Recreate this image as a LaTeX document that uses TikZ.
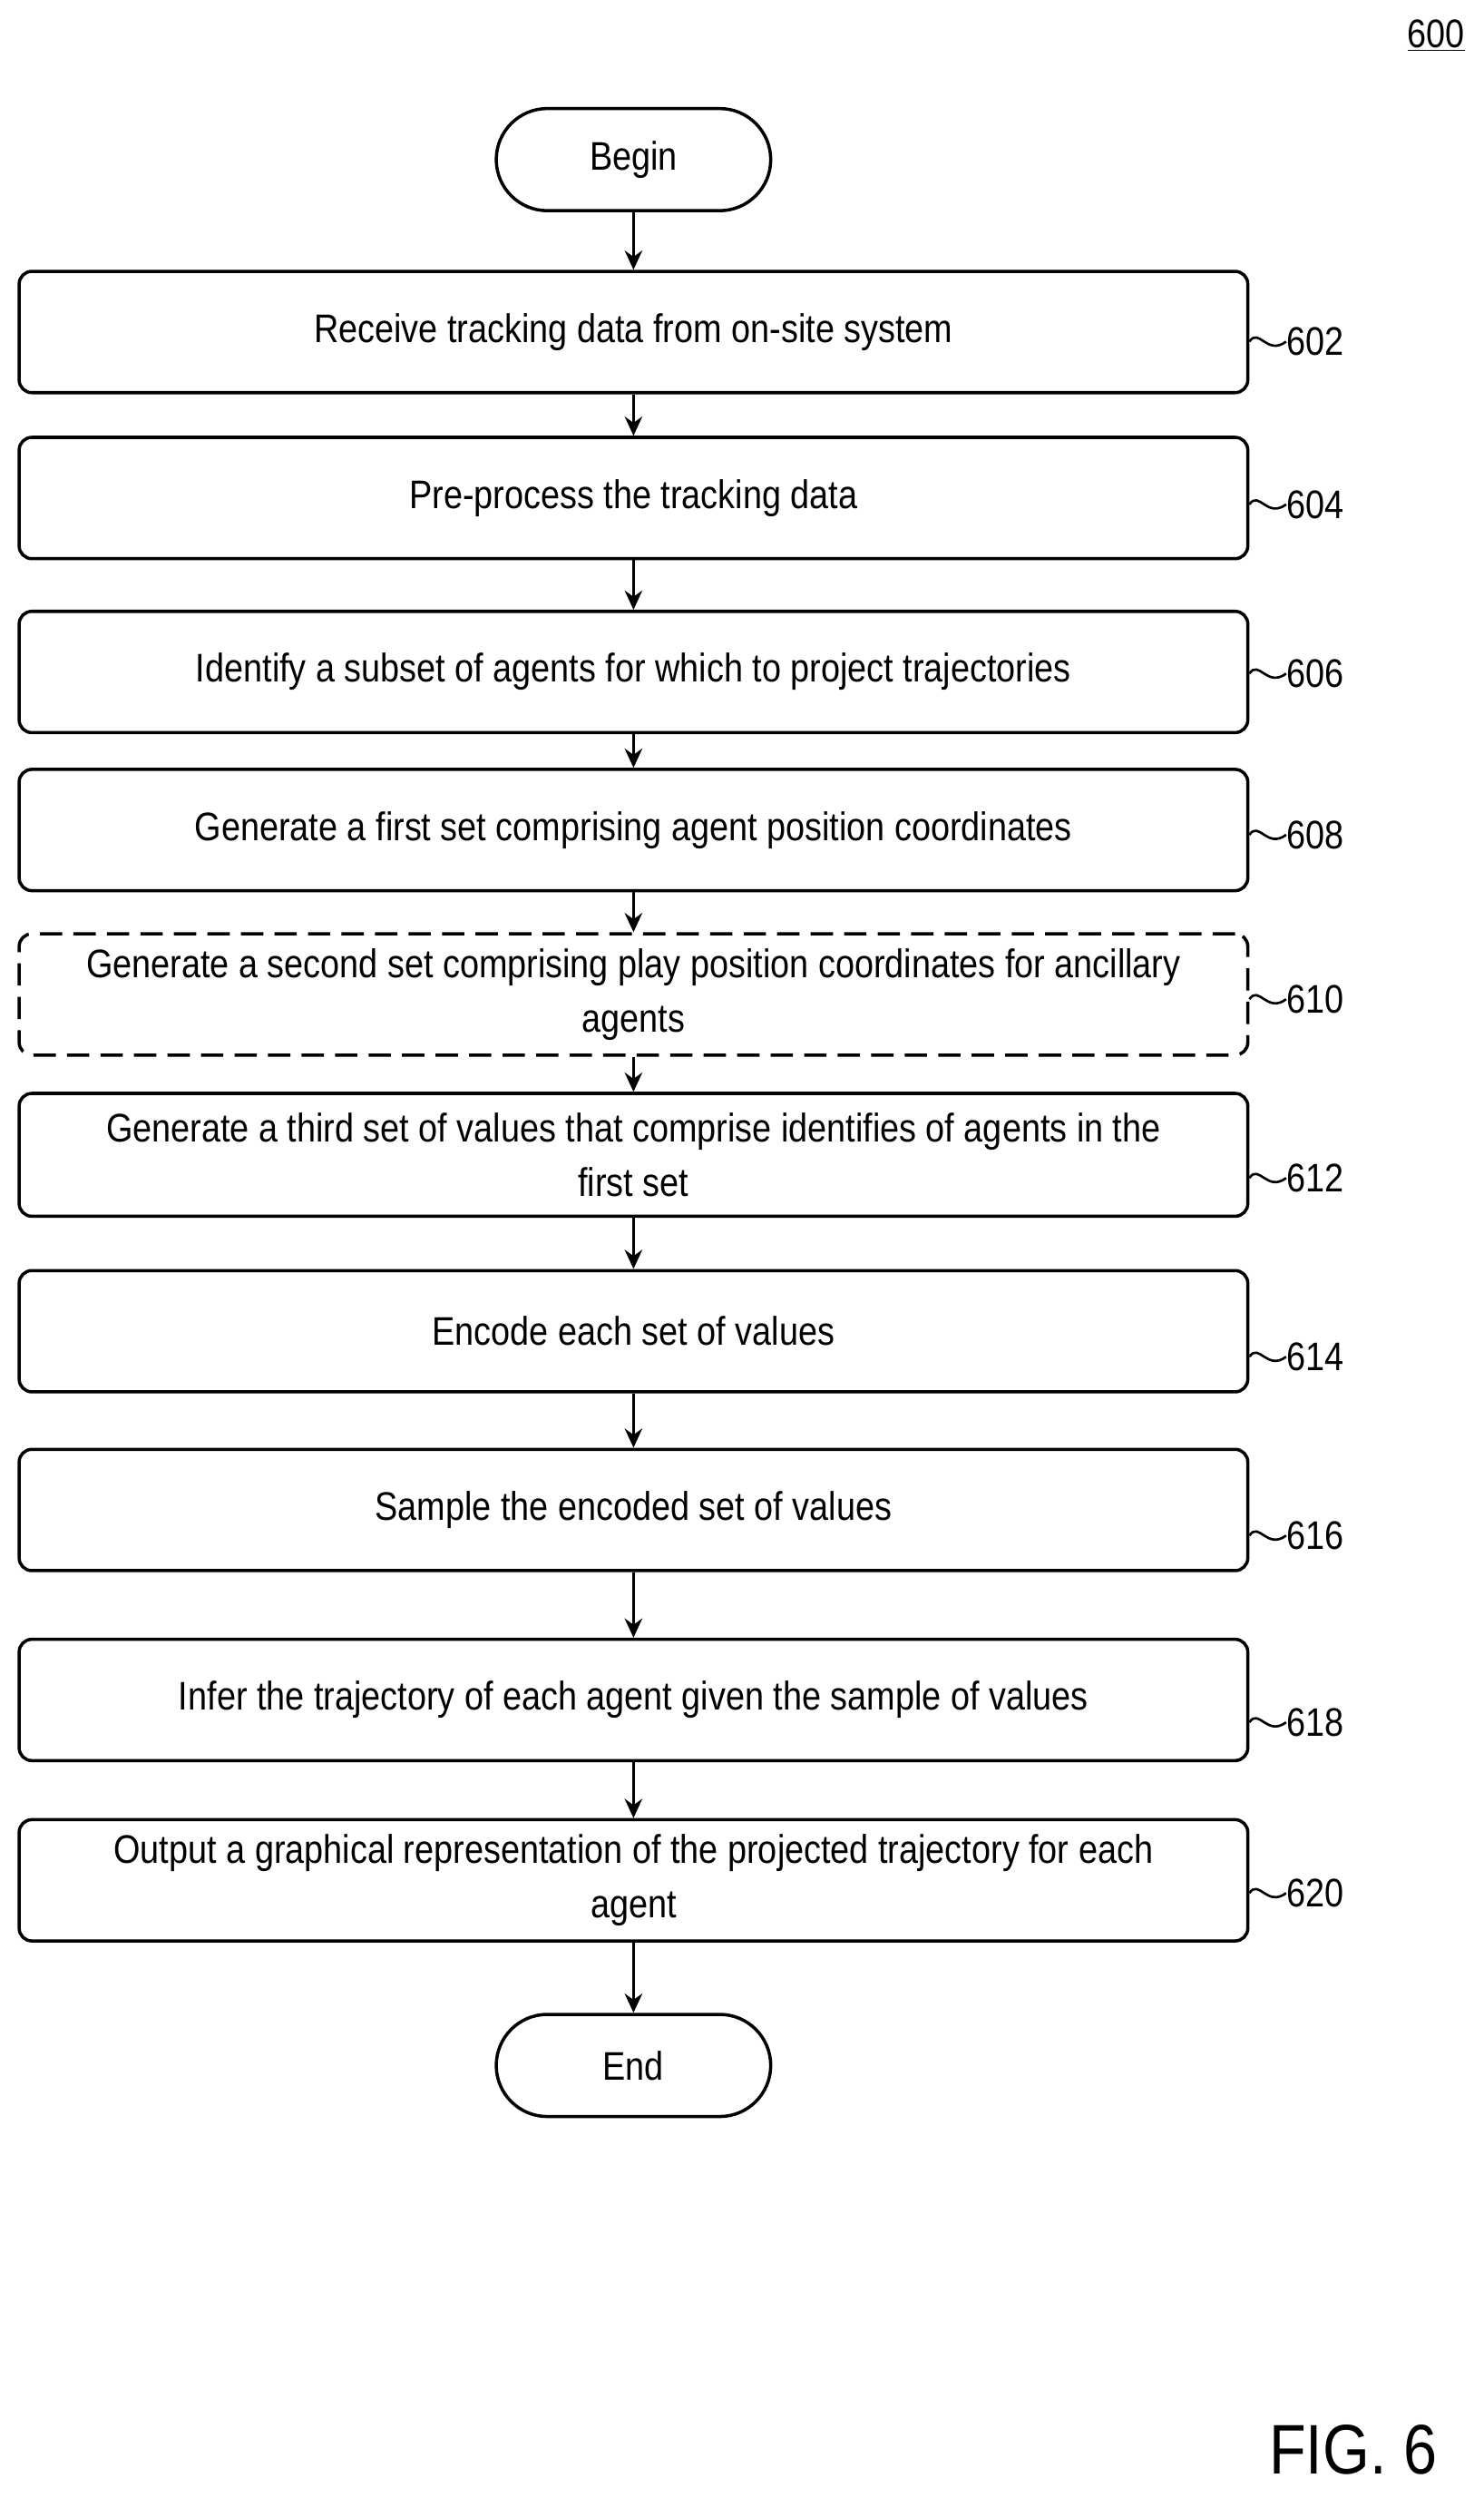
\documentclass[tikz,border=0pt]{standalone}
\usepackage{fontspec}
\setmainfont{Liberation Sans}[FakeStretch=0.86]
\usetikzlibrary{arrows.meta}
\begin{document}
\begin{tikzpicture}[x=1pt,y=-1pt,
  box/.style={draw,line width=2pt,rounded corners=8pt,minimum width=770pt,align=center,font=\fontsize{25}{34}\selectfont,inner sep=0pt},
  term/.style={draw,line width=2pt,rounded corners=32pt,minimum width=172pt,minimum height=64pt,font=\fontsize{25}{30}\selectfont},
  lab/.style={font=\fontsize{25}{30}\selectfont,anchor=west,inner sep=0pt},
  arr/.style={line width=2pt,-{Stealth[length=12pt,width=11pt]}},
  sq/.style={line width=1.5pt}]
\useasboundingbox (0,0) rectangle (930,1565);
\node[term] (b) at (397,100) {Begin};
\def\mk#1#2#3#4{\node[box,minimum height=#3-#2 pt] (n#1) at (397,{(#2+#3)/2}) {#4};}
\mk{602}{170}{246}{Receive tracking data from on-site system}
\mk{604}{274}{350}{Pre-process the tracking data}
\mk{606}{383}{459}{Identify a subset of agents for which to project trajectories}
\mk{608}{482}{558}{Generate a first set comprising agent position coordinates}
\node[box,dashed,dash pattern=on 14pt off 7pt,minimum height=76pt] (n610) at (397,623) {Generate a second set comprising play position coordinates for ancillary\\agents};
\mk{612}{685}{762}{Generate a third set of values that comprise identifies of agents in the\\first set}
\mk{614}{796}{872}{Encode each set of values}
\mk{616}{908}{984}{Sample the encoded set of values}
\mk{618}{1027}{1103}{Infer the trajectory of each agent given the sample of values}
\mk{620}{1140}{1216}{Output a graphical representation of the projected trajectory for each\\agent}
\node[term] (e) at (397,1294) {End};
\draw[arr] (b) -- (n602);
\foreach \a/\c in {602/604,604/606,606/608,608/610,610/612,612/614,614/616,616/618,618/620} \draw[arr] (n\a) -- (n\c);
\draw[arr] (n620) -- (e);
\foreach \n/\y in {602/214,604/316,606/422,608/523,610/626,612/738,614/850,616/962,618/1079,620/1186}{
  \coordinate (s\n) at (783,\y);
  \node[lab] (l\n) at (806,\y) {\n};
  \draw[sq] (s\n) .. controls (789,\y-9) and (794,\y+9) .. (l\n.west);
}
\node[font=\fontsize{25}{30}\selectfont] (t600) at (900,22) {\underline{600}};
\node[font=\fontsize{44}{50}\selectfont] (fig) at (848,1535) {FIG. 6};
\end{tikzpicture}
\end{document}
